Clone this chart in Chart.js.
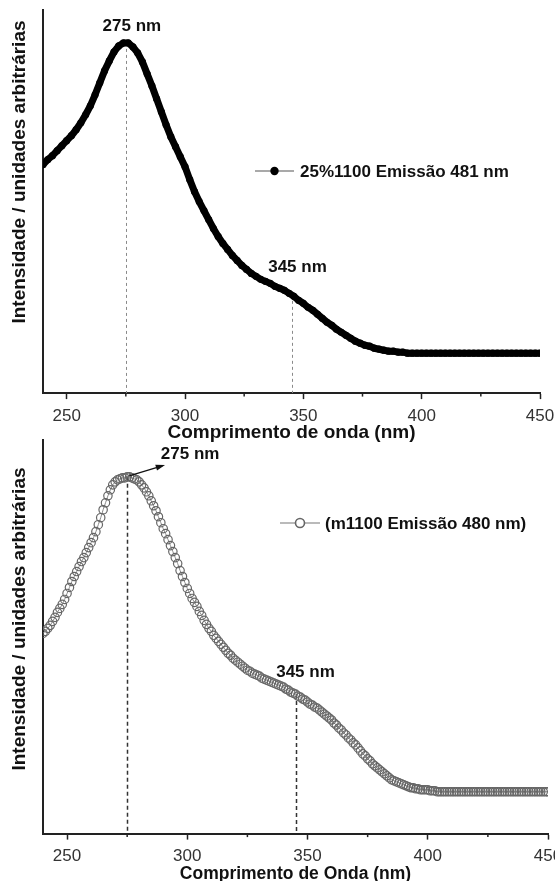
<!DOCTYPE html>
<html>
<head>
<meta charset="utf-8">
<script src="https://cdn.jsdelivr.net/npm/chart.js@4.4.0/dist/chart.umd.min.js"></script>
<style>
  html, body { margin: 0; padding: 0; background: #fff; overflow: hidden; width: 555px; height: 881px; }
  canvas { position: absolute; left: 0; }
  #top-chart { top: 0; }
  #bottom-chart { top: 430px; }
</style>
</head>
<body>
<canvas id="top-chart" width="575" height="442"></canvas>
<canvas id="bottom-chart" width="575" height="453"></canvas>
<script>
// excitation spectra, intensity in arbitrary units
// top: sample 25%1100, emission 481 nm, every 2 nm
const topWavelengths = [
  240, 242, 244, 246, 248, 250, 252, 254, 256, 258,
  260, 262, 264, 266, 268, 270, 272, 274, 276, 278,
  280, 282, 284, 286, 288, 290, 292, 294, 296, 298,
  300, 302, 304, 306, 308, 310, 312, 314, 316, 318,
  320, 322, 324, 326, 328, 330, 332, 334, 336, 338,
  340, 342, 344, 346, 348, 350, 352, 354, 356, 358,
  360, 362, 364, 366, 368, 370, 372, 374, 376, 378,
  380, 382, 384, 386, 388, 390, 392, 394, 396, 398,
  400, 402, 404, 406, 408, 410, 412, 414, 416, 418,
  420, 422, 424, 426, 428, 430, 432, 434, 436, 438,
  440, 442, 444, 446, 448, 450
];
const topIntensity = [
  229, 234, 238, 243, 248, 253, 258, 264, 271, 279,
  288, 299, 311, 323, 333, 342, 348, 351, 351, 347,
  341, 332, 320, 308, 295, 282, 269, 257, 247, 237,
  227, 214, 202, 192, 183, 174, 165, 157, 150, 144,
  138, 133, 128, 124, 120, 117, 114, 112, 110, 107,
  105, 103, 100, 97, 93, 90, 86, 83, 79, 75,
  71, 68, 64, 61, 58, 55, 52, 50, 48, 47,
  45, 44, 43, 42, 42, 41, 41, 40, 40, 40,
  40, 40, 40, 40, 40, 40, 40, 40, 40, 40,
  40, 40, 40, 40, 40, 40, 40, 40, 40, 40,
  40, 40, 40, 40, 40, 40
];

// bottom: sample m1100, emission 480 nm, every 1 nm
const bottomWavelengths = [
  240, 241, 242, 243, 244, 245, 246, 247, 248, 249,
  250, 251, 252, 253, 254, 255, 256, 257, 258, 259,
  260, 261, 262, 263, 264, 265, 266, 267, 268, 269,
  270, 271, 272, 273, 274, 275, 276, 277, 278, 279,
  280, 281, 282, 283, 284, 285, 286, 287, 288, 289,
  290, 291, 292, 293, 294, 295, 296, 297, 298, 299,
  300, 301, 302, 303, 304, 305, 306, 307, 308, 309,
  310, 311, 312, 313, 314, 315, 316, 317, 318, 319,
  320, 321, 322, 323, 324, 325, 326, 327, 328, 329,
  330, 331, 332, 333, 334, 335, 336, 337, 338, 339,
  340, 341, 342, 343, 344, 345, 346, 347, 348, 349,
  350, 351, 352, 353, 354, 355, 356, 357, 358, 359,
  360, 361, 362, 363, 364, 365, 366, 367, 368, 369,
  370, 371, 372, 373, 374, 375, 376, 377, 378, 379,
  380, 381, 382, 383, 384, 385, 386, 387, 388, 389,
  390, 391, 392, 393, 394, 395, 396, 397, 398, 399,
  400, 401, 402, 403, 404, 405, 406, 407, 408, 409,
  410, 411, 412, 413, 414, 415, 416, 417, 418, 419,
  420, 421, 422, 423, 424, 425, 426, 427, 428, 429,
  430, 431, 432, 433, 434, 435, 436, 437, 438, 439,
  440, 441, 442, 443, 444, 445, 446, 447, 448, 449,
  450
];
const bottomIntensity = [
  201, 203, 206, 209, 213, 217, 222, 226, 230, 235,
  241, 247, 253, 258, 263, 268, 273, 277, 282, 287,
  292, 297, 303, 310, 317, 325, 332, 339, 345, 350,
  353, 355, 356, 357, 357, 358, 358, 357, 356, 355,
  353, 350, 347, 343, 339, 334, 329, 324, 318, 312,
  306, 301, 295, 289, 283, 277, 271, 264, 258, 252,
  246, 241, 236, 232, 228, 223, 219, 214, 210, 206,
  203, 199, 196, 193, 190, 187, 184, 181, 179, 176,
  174, 172, 170, 168, 166, 164, 163, 161, 160, 159,
  158, 156, 155, 154, 153, 152, 151, 150, 149, 148,
  147, 145, 144, 142, 141, 140, 138, 137, 135, 134,
  132, 130, 129, 127, 126, 124, 122, 120, 118, 116,
  114, 111, 109, 106, 104, 101, 99, 96, 94, 91,
  89, 86, 83, 80, 78, 75, 73, 70, 68, 66,
  64, 62, 60, 58, 56, 54, 53, 52, 51, 50,
  49, 48, 47, 46, 46, 45, 45, 44, 44, 44,
  44, 43, 43, 43, 42, 42, 42, 42, 42, 42,
  42, 42, 42, 42, 42, 42, 42, 42, 42, 42,
  42, 42, 42, 42, 42, 42, 42, 42, 42, 42,
  42, 42, 42, 42, 42, 42, 42, 42, 42, 42,
  42, 42, 42, 42, 42, 42, 42, 42, 42, 42,
  42
];

const xTicks = [250, 300, 350, 400, 450];
const xMinorTicks = [275, 325, 375, 425];
const peakWavelengths = [275, 345];
const yTitle = 'Intensidade / unidades arbitrárias';

const FONT = "'Liberation Sans', Arial, sans-serif";

function toPoints(xs, ys) {
  var pts = [];
  for (var i = 0; i < xs.length; i++) {
    pts.push({ x: xs[i], y: ys[i] });
  }
  return pts;
}

// curve height at a wavelength (neighbouring samples when it falls between two)
function curveAt(pts, nm) {
  for (var i = 0; i < pts.length - 1; i++) {
    if (pts[i].x <= nm && pts[i + 1].x >= nm) {
      var t = (nm - pts[i].x) / (pts[i + 1].x - pts[i].x);
      return pts[i].y + t * (pts[i + 1].y - pts[i].y);
    }
  }
  return pts[pts.length - 1].y;
}

// dashed drop lines, peak labels, legend, minor ticks and y title
const decorPlugin = {
  id: 'decor',
  beforeDatasetsDraw(chart, args, opts) {
    const { ctx, chartArea } = chart;
    const x = chart.scales.x, y = chart.scales.y;
    const pts = chart.data.datasets[0].data;
    ctx.save();
    ctx.setLineDash(opts.dash);
    ctx.strokeStyle = opts.dashColor;
    ctx.lineWidth = opts.dashWidth;
    peakWavelengths.forEach(function (nm) {
      const px = Math.round(x.getPixelForValue(nm)) + 0.5;
      ctx.beginPath();
      ctx.moveTo(px, y.getPixelForValue(curveAt(pts, nm)));
      ctx.lineTo(px, chartArea.bottom);
      ctx.stroke();
    });
    ctx.restore();
  },
  afterDraw(chart, args, opts) {
    const { ctx, chartArea } = chart;
    const x = chart.scales.x, y = chart.scales.y;
    const pts = chart.data.datasets[0].data;
    ctx.save();

    // minor ticks
    ctx.strokeStyle = '#222';
    ctx.lineWidth = 1.5;
    xMinorTicks.forEach(function (nm) {
      const px = x.getPixelForValue(nm);
      ctx.beginPath();
      ctx.moveTo(px, chartArea.bottom);
      ctx.lineTo(px, chartArea.bottom + 3.5);
      ctx.stroke();
    });

    // peak labels
    ctx.fillStyle = '#111';
    ctx.font = 'bold 17px ' + FONT;
    ctx.textAlign = 'center';
    ctx.textBaseline = 'middle';
    opts.labels.forEach(function (l) {
      const px = x.getPixelForValue(l.nm), py = y.getPixelForValue(curveAt(pts, l.nm));
      ctx.fillText(l.nm + ' nm', px + l.dx, py + l.dy);
      if (l.arrow) {
        const x0 = px + 2, y0 = py - 1;
        const x1 = px + l.arrow[0], y1 = py + l.arrow[1];
        const ang = Math.atan2(y1 - y0, x1 - x0);
        ctx.strokeStyle = '#111';
        ctx.lineWidth = 1.3;
        ctx.beginPath();
        ctx.moveTo(x0, y0);
        ctx.lineTo(x1, y1);
        ctx.stroke();
        ctx.beginPath();
        ctx.moveTo(x1 + 3 * Math.cos(ang), y1 + 3 * Math.sin(ang));
        ctx.lineTo(x1 - 7 * Math.cos(ang - 0.45), y1 - 7 * Math.sin(ang - 0.45));
        ctx.lineTo(x1 - 7 * Math.cos(ang + 0.45), y1 - 7 * Math.sin(ang + 0.45));
        ctx.closePath();
        ctx.fill();
      }
    });

    // legend
    const lg = opts.legend;
    const ds = chart.data.datasets[0];
    ctx.strokeStyle = lg.lineColor;
    ctx.lineWidth = 1.2;
    ctx.beginPath();
    ctx.moveTo(lg.x, lg.y);
    ctx.lineTo(lg.x + lg.len, lg.y);
    ctx.stroke();
    ctx.beginPath();
    ctx.arc(lg.x + lg.len / 2, lg.y, lg.r, 0, Math.PI * 2);
    if (lg.filled) {
      ctx.fillStyle = ds.pointBackgroundColor;
      ctx.fill();
    } else {
      ctx.fillStyle = '#fff';
      ctx.fill();
      ctx.strokeStyle = ds.pointBorderColor;
      ctx.lineWidth = 1.6;
      ctx.stroke();
    }
    ctx.fillStyle = '#111';
    ctx.textAlign = 'left';
    ctx.fillText(ds.label, lg.x + lg.len + lg.gap, lg.y + 1);

    // y axis title
    ctx.translate(opts.yTitleX, opts.yTitleY);
    ctx.rotate(-Math.PI / 2);
    ctx.font = 'bold ' + opts.yTitleSize + 'px ' + FONT;
    ctx.textAlign = 'center';
    ctx.fillText(yTitle, 0, 0);
    ctx.restore();
  }
};

function makeOptions(xTitle, xTitleSize, xTitlePad, yMax, padRight, decor) {
  return {
    responsive: false,
    animation: false,
    events: [],
    devicePixelRatio: 1,
    layout: { padding: { left: 43, right: padRight, top: 10, bottom: 0 } },
    plugins: {
      legend: { display: false },
      tooltip: { enabled: false },
      decor: decor
    },
    scales: {
      x: {
        type: 'linear',
        min: 240,
        max: 450,
        afterBuildTicks: function (axis) {
          axis.ticks = xTicks.concat(xMinorTicks)
            .sort(function (a, b) { return a - b; })
            .map(function (v) { return { value: v }; });
        },
        ticks: {
          padding: 7,
          color: '#333',
          font: { family: FONT, size: 17 },
          maxRotation: 0,
          autoSkip: false,
          callback: function (v) { return xTicks.indexOf(v) >= 0 ? String(v) : ''; }
        },
        grid: {
          drawOnChartArea: false,
          drawTicks: true,
          tickLength: 6,
          tickWidth: 1.5,
          tickColor: function (c) {
            return c.tick && xTicks.indexOf(c.tick.value) >= 0 ? '#222' : 'rgba(0,0,0,0)';
          }
        },
        border: { display: true, color: '#222', width: 2 },
        title: {
          display: true,
          text: xTitle,
          color: '#111',
          font: { family: FONT, size: xTitleSize, weight: 'bold', lineHeight: 1 },
          padding: { top: xTitlePad, bottom: 0 }
        }
      },
      y: {
        min: 0,
        max: yMax,
        ticks: { display: false },
        grid: { display: false, drawTicks: false },
        border: { display: true, color: '#222', width: 2 }
      }
    }
  };
}

const topChart = new Chart(document.getElementById('top-chart'), {
  type: 'line',
  data: {
    datasets: [{
      label: '25%1100 Emissão 481 nm',
      data: toPoints(topWavelengths, topIntensity),
      borderColor: '#000',
      borderWidth: 7,
      borderJoinStyle: 'round',
      borderCapStyle: 'round',
      pointRadius: 3.6,
      pointBorderWidth: 0,
      pointBackgroundColor: '#000',
      tension: 0
    }]
  },
  options: makeOptions('Comprimento de onda (nm)', 19, -10.5, 384, 35, {
    dash: [3, 3],
    dashColor: '#8a8a8a',
    dashWidth: 1,
    labels: [
      { nm: 275, dx: 6, dy: -17 },
      { nm: 345, dx: 6, dy: -28 }
    ],
    legend: { x: 255, y: 171, len: 39, r: 4.2, gap: 6, filled: true, lineColor: '#555' },
    yTitleX: 20,
    yTitleY: 172,
    yTitleSize: 19
  }),
  plugins: [decorPlugin]
});

const bottomChart = new Chart(document.getElementById('bottom-chart'), {
  type: 'line',
  data: {
    datasets: [{
      label: '(m1100 Emissão 480 nm)',
      data: toPoints(bottomWavelengths, bottomIntensity),
      borderColor: '#8a8a8a',
      borderWidth: 1,
      pointRadius: 4.2,
      pointBorderWidth: 1.2,
      pointBorderColor: '#666',
      pointBackgroundColor: 'rgba(255,255,255,0)',
      tension: 0
    }]
  },
  options: makeOptions('Comprimento de Onda (nm)', 17.5, -8.5, 395, 27, {
    dash: [4, 3],
    dashColor: '#333',
    dashWidth: 1.5,
    labels: [
      { nm: 275, dx: 63, dy: -23, arrow: [35, -11] },
      { nm: 345, dx: 10, dy: -22 }
    ],
    legend: { x: 280, y: 93, len: 40, r: 4.5, gap: 5, filled: false, lineColor: '#777' },
    yTitleX: 20,
    yTitleY: 189,
    yTitleSize: 19
  }),
  plugins: [decorPlugin]
});
</script>
</body>
</html>
